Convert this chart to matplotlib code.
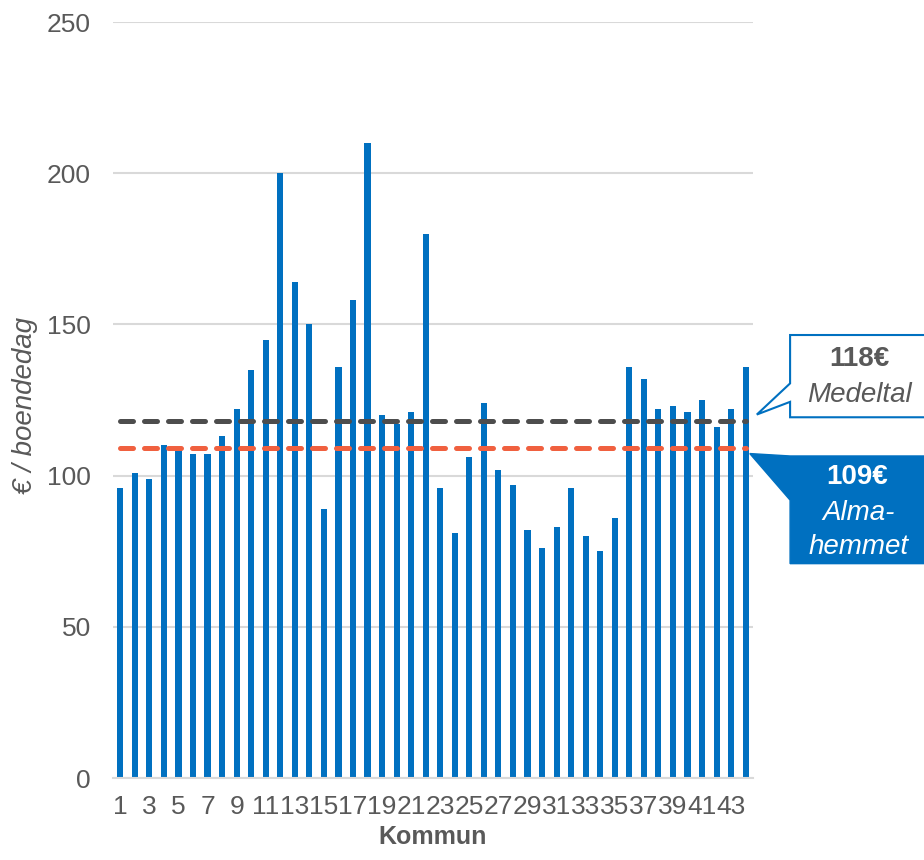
import numpy as np
import matplotlib.pyplot as plt
from matplotlib.patches import Polygon
from matplotlib.transforms import blended_transform_factory

plt.rcParams['font.family'] = ['Liberation Sans', 'DejaVu Sans']

# daily cost per municipality (€ / boendedag)
kommun = np.arange(1, 45)
kostnad = [96, 101, 99, 110, 109, 107, 107, 113, 122, 135, 145, 200, 164, 150, 89,
           136, 158, 210, 120, 117, 121, 180, 96, 81, 106, 124, 102, 97, 82, 76,
           83, 96, 80, 75, 86, 136, 132, 122, 123, 121, 125, 116, 122, 136]
medeltal = 118
almahemmet = 109
tick_pos = list(range(1, 44, 2))
tick_lab = [str(t) for t in tick_pos]

blue = '#0070C0'
grey_txt = '#595959'

fig = plt.figure(figsize=(9.24, 8.6), dpi=100)
ax = fig.add_axes([0.1223, 0.0953, 0.6926, 0.8791])

ax.bar(kommun, kostnad, width=0.42, color=blue, zorder=2)
ax.plot([kommun[0], kommun[-1]], [medeltal, medeltal], color='#4D4D4D', lw=3.6,
        dashes=(2.6, 2.2), dash_capstyle='round', zorder=3)
ax.plot([kommun[0], kommun[-1]], [almahemmet, almahemmet], color='#F0603F', lw=3.6,
        dashes=(2.6, 2.2), dash_capstyle='round', zorder=3)

ax.set_xlim(0.5, 44.5)
ax.set_ylim(0, 250)
ax.set_yticks([0, 50, 100, 150, 200, 250])
ax.set_xticks(tick_pos)
ax.set_xticklabels(tick_lab)
ax.tick_params(axis='both', length=0, labelsize=19, colors=grey_txt)
ax.tick_params(axis='y', pad=16)
ax.tick_params(axis='x', pad=12)
ax.grid(axis='y', color='#D9D9D9', lw=1.5, zorder=0)
for s in ['top', 'right', 'left']:
    ax.spines[s].set_visible(False)
ax.spines['bottom'].set_color('#D9D9D9')
ax.spines['bottom'].set_linewidth(1.5)

fig.text(0.027, 0.528, '€ / boendedag', rotation=90, ha='center', va='center',
         fontsize=20, style='italic', color=grey_txt)
fig.text(0.4686, 0.027, 'Kommun', ha='center', va='center',
         fontsize=18, fontweight='bold', color=grey_txt)

# callouts pointing at the two reference lines
tr = blended_transform_factory(ax.transAxes, ax.transData)
box1 = [(1.058, 146.5), (1.4, 146.5), (1.4, 119.3), (1.058, 119.3),
        (1.058, 124.4), (1.006, medeltal + 2.2), (1.058, 130.5)]
ax.add_patch(Polygon(box1, closed=True, facecolor='white', edgecolor=blue, lw=1.5,
                     transform=tr, clip_on=False, zorder=5))
box2 = [(0.995, almahemmet - 1.7), (1.058, 106.5), (1.4, 106.5), (1.4, 70.9),
        (1.058, 70.9), (1.058, 91.9)]
ax.add_patch(Polygon(box2, closed=True, facecolor=blue, edgecolor=blue, lw=1.0,
                     transform=tr, clip_on=False, zorder=5))

ax.text(1.167, 138.6, f'{medeltal}€', transform=tr, ha='center', va='center',
        fontsize=20, fontweight='bold', color=grey_txt, zorder=6)
ax.text(1.167, 126.7, 'Medeltal', transform=tr, ha='center', va='center',
        fontsize=20, style='italic', color=grey_txt, zorder=6)
ax.text(1.162, 99.6, f'{almahemmet}€', transform=tr, ha='center', va='center',
        fontsize=20, fontweight='bold', color='white', zorder=6)
ax.text(1.165, 87.6, 'Alma-', transform=tr, ha='center', va='center',
        fontsize=20, style='italic', color='white', zorder=6)
ax.text(1.165, 76.5, 'hemmet', transform=tr, ha='center', va='center',
        fontsize=20, style='italic', color='white', zorder=6)

fig.savefig('out.png', dpi=100)
